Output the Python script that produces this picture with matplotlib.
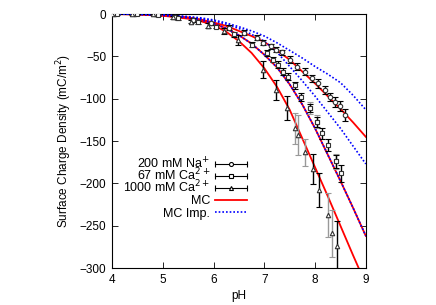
import matplotlib
matplotlib.use("Agg")
import matplotlib.pyplot as plt
from matplotlib.lines import Line2D

plt.rcParams['font.family'] = ['Liberation Sans', 'DejaVu Sans']

# ---------------- data ----------------
# 200 mM Na+ (circles)
na_ph = [4.05, 4.45, 4.85, 5.25, 5.6, 5.95, 6.3, 6.6, 6.85, 6.98, 7.14, 7.24, 7.34, 7.5,
         7.64, 7.8, 7.93, 8.06, 8.19, 8.29, 8.39, 8.49, 8.59]
na_val = [0, 0, -0.5, -3, -7, -11, -16, -22, -28, -34, -38, -42, -45, -54,
          -62, -68, -76, -82, -90, -98, -104, -109, -119]
na_err = [1, 1, 1, 2, 2, 2, 3, 3, 3, 3, 3, 3, 3, 4,
          4, 4, 4, 5, 5, 5, 6, 6, 7]

# 67 mM Ca2+ (squares)
ca67_ph = [4.1, 4.5, 4.9, 5.3, 5.7, 6.05, 6.4, 6.75, 7.05, 7.18, 7.27, 7.37, 7.47,
           7.6, 7.73, 7.9, 8.03, 8.13, 8.26, 8.42, 8.52]
ca67_val = [0, 0, -1, -5, -10, -15, -24, -36, -46, -54, -60, -68, -74,
            -84, -98, -111, -127, -141, -155, -174, -188]
ca67_err = [1, 1, 1, 2, 2, 2, 3, 3, 3, 3, 4, 4, 4,
            4, 5, 5, 6, 6, 7, 8, 10]

# 1000 mM Ca2+ (triangles), black-bar measurements
ca1000_ph = [4.0, 4.4, 4.8, 5.2, 5.55, 5.9, 6.2, 6.49, 6.98, 7.24, 7.44, 7.95, 8.08, 8.44]
ca1000_val = [0, 0, -0.5, -4, -9, -14, -20, -31, -66, -90, -111, -183, -208, -274]
ca1000_err = [1, 1, 1, 2, 2, 3, 3, 6, 10, 12, 14, 18, 20, 30]

# 1000 mM Ca2+ replicate measurements (grey bars)
ca1000b_ph = [7.6, 7.67, 7.8, 8.25, 8.34]
ca1000b_val = [-135, -143, -163, -237, -259]
ca1000b_err = [18, 24, 16, 26, 28]

# 67 mM Ca2+ replicate measurements (grey bars)
ca67b_ph = [7.9, 8.03, 8.42]
ca67b_val = [-111, -127, -174]
ca67b_err = [7, 8, 9]

# MC curves
mc_ph = [4.0, 4.5, 5.0, 5.5, 5.75, 6.0, 6.25, 6.5, 6.75, 7.0, 7.25, 7.5, 7.75,
         8.0, 8.25, 8.5, 8.75, 9.0]
mc_na = [0, -0.3, -1.5, -4, -6.5, -10, -14, -20, -26, -33, -43, -54, -68,
         -82, -97, -112, -128, -145]
mc_ca67 = [0, -0.3, -1.5, -4.5, -7, -11, -17, -25, -35, -48, -63, -83, -107,
           -135, -166, -197, -229, -262]
mc_ca1000_ph = [4.0, 4.5, 5.0, 5.5, 5.75, 6.0, 6.25, 6.5, 6.75, 7.0, 7.25, 7.5, 7.75,
                8.0, 8.25, 8.5, 8.75, 8.86]
mc_ca1000 = [0, -0.4, -2, -5.5, -8.5, -13, -21, -32, -46, -64, -86, -113, -147,
             -181, -215, -250, -285, -300]

# MC Imp. curves
imp_ph = [4.0, 4.5, 5.0, 5.5, 5.75, 6.0, 6.25, 6.5, 6.75, 7.0, 7.25, 7.5, 7.75,
          8.0, 8.25, 8.5, 8.75, 9.0]
imp_a = [0, -0.2, -1, -3, -4.5, -7, -10.5, -15, -20, -26, -34, -43, -52,
         -62, -71, -81, -96, -113]
imp_b = [0, -0.2, -1.2, -3.5, -5.5, -8, -12, -17, -24, -32, -45, -62, -79,
         -97, -116, -135, -156, -177]
imp_c = mc_ca67

labels = ['200 mM Na$^{+}$', '67 mM Ca$^{2+}$', '1000 mM Ca$^{2+}$', 'MC', 'MC Imp.']

# ---------------- figure ----------------
fig = plt.figure(figsize=(4.36, 3.05), dpi=100)
ax = fig.add_axes([0.257, 0.121, 0.582, 0.833])

fs = 8.5
ms = 3.2
dotted = (0, (1, 1.2))

ax.plot(mc_ph, mc_na, color='#ff0000', lw=1.3, zorder=2)
ax.plot(mc_ph, mc_ca67, color='#ff0000', lw=1.3, zorder=2)
ax.plot(mc_ca1000_ph, mc_ca1000, color='#ff0000', lw=1.3, zorder=2)
ax.plot(imp_ph, imp_a, color='#0000ff', lw=1.2, ls=dotted, zorder=3)
ax.plot(imp_ph, imp_b, color='#0000ff', lw=1.2, ls=dotted, zorder=3)
ax.plot(imp_ph, imp_c, color='#0000ff', lw=1.2, ls=dotted, zorder=3)


def eb(x, y, e, marker, color, capcolor='k'):
    r = ax.errorbar(x, y, yerr=e, fmt=marker, ms=ms, mfc='white', mec='#333333',
                    mew=0.8, ecolor=color, elinewidth=1.0, capsize=2.0,
                    capthick=0.8, zorder=4)
    for c in r[1]:
        c.set_color(capcolor)
    return r


eb(ca1000b_ph, ca1000b_val, ca1000b_err, '^', '#999999')
eb(ca67b_ph, ca67b_val, ca67b_err, 's', '#999999')
eb(na_ph, na_val, na_err, 'o', 'k')
eb(ca67_ph, ca67_val, ca67_err, 's', 'k')
eb(ca1000_ph, ca1000_val, ca1000_err, '^', 'k')

# ---------------- legend (gnuplot style, drawn manually) ----------------
tx = 0.386          # right edge of label text (axes fraction)
hx0, hx1 = 0.406, 0.531
row_y = [0.409, 0.362, 0.315, 0.268, 0.220]
base_off = -0.017
markers = ['o', 's', '^']
T = ax.transAxes
for i, lab in enumerate(labels):
    y = row_y[i]
    ax.text(tx, y + base_off, lab, transform=T, ha='right', va='baseline',
            fontsize=9)
    if i < 3:
        ax.add_line(Line2D([hx0, hx1], [y, y], color='k', lw=0.8,
                           transform=T, clip_on=False))
        ax.add_line(Line2D([hx0, hx1], [y, y], ls='none', marker='|', ms=4.5,
                           mew=0.8, color='k', transform=T, clip_on=False))
        ax.add_line(Line2D([(hx0 + hx1) / 2], [y], ls='none', marker=markers[i],
                           ms=ms * 0.9, mfc='white', mec='k', mew=0.8,
                           transform=T, clip_on=False))
    elif i == 3:
        ax.add_line(Line2D([hx0, hx1], [y, y], color='#ff0000', lw=1.3,
                           transform=T, clip_on=False))
    else:
        ax.add_line(Line2D([hx0, hx1], [y, y], color='#0000ff', lw=1.2,
                           ls=dotted, transform=T, clip_on=False))

ax.set_xlim(4, 9)
ax.set_ylim(-300, 0)
ax.set_xticks([4, 5, 6, 7, 8, 9])
ax.set_yticks([0, -50, -100, -150, -200, -250, -300])
ax.tick_params(direction='in', top=True, right=True, length=4, width=0.6,
               labelsize=fs, pad=4)
for s in ax.spines.values():
    s.set_linewidth(0.8)
ax.set_xlabel('pH', fontsize=fs, labelpad=3)
ax.set_ylabel('Surface Charge Density (mC/m$^2$)', fontsize=fs, labelpad=4)

fig.savefig('out.png', dpi=100)
